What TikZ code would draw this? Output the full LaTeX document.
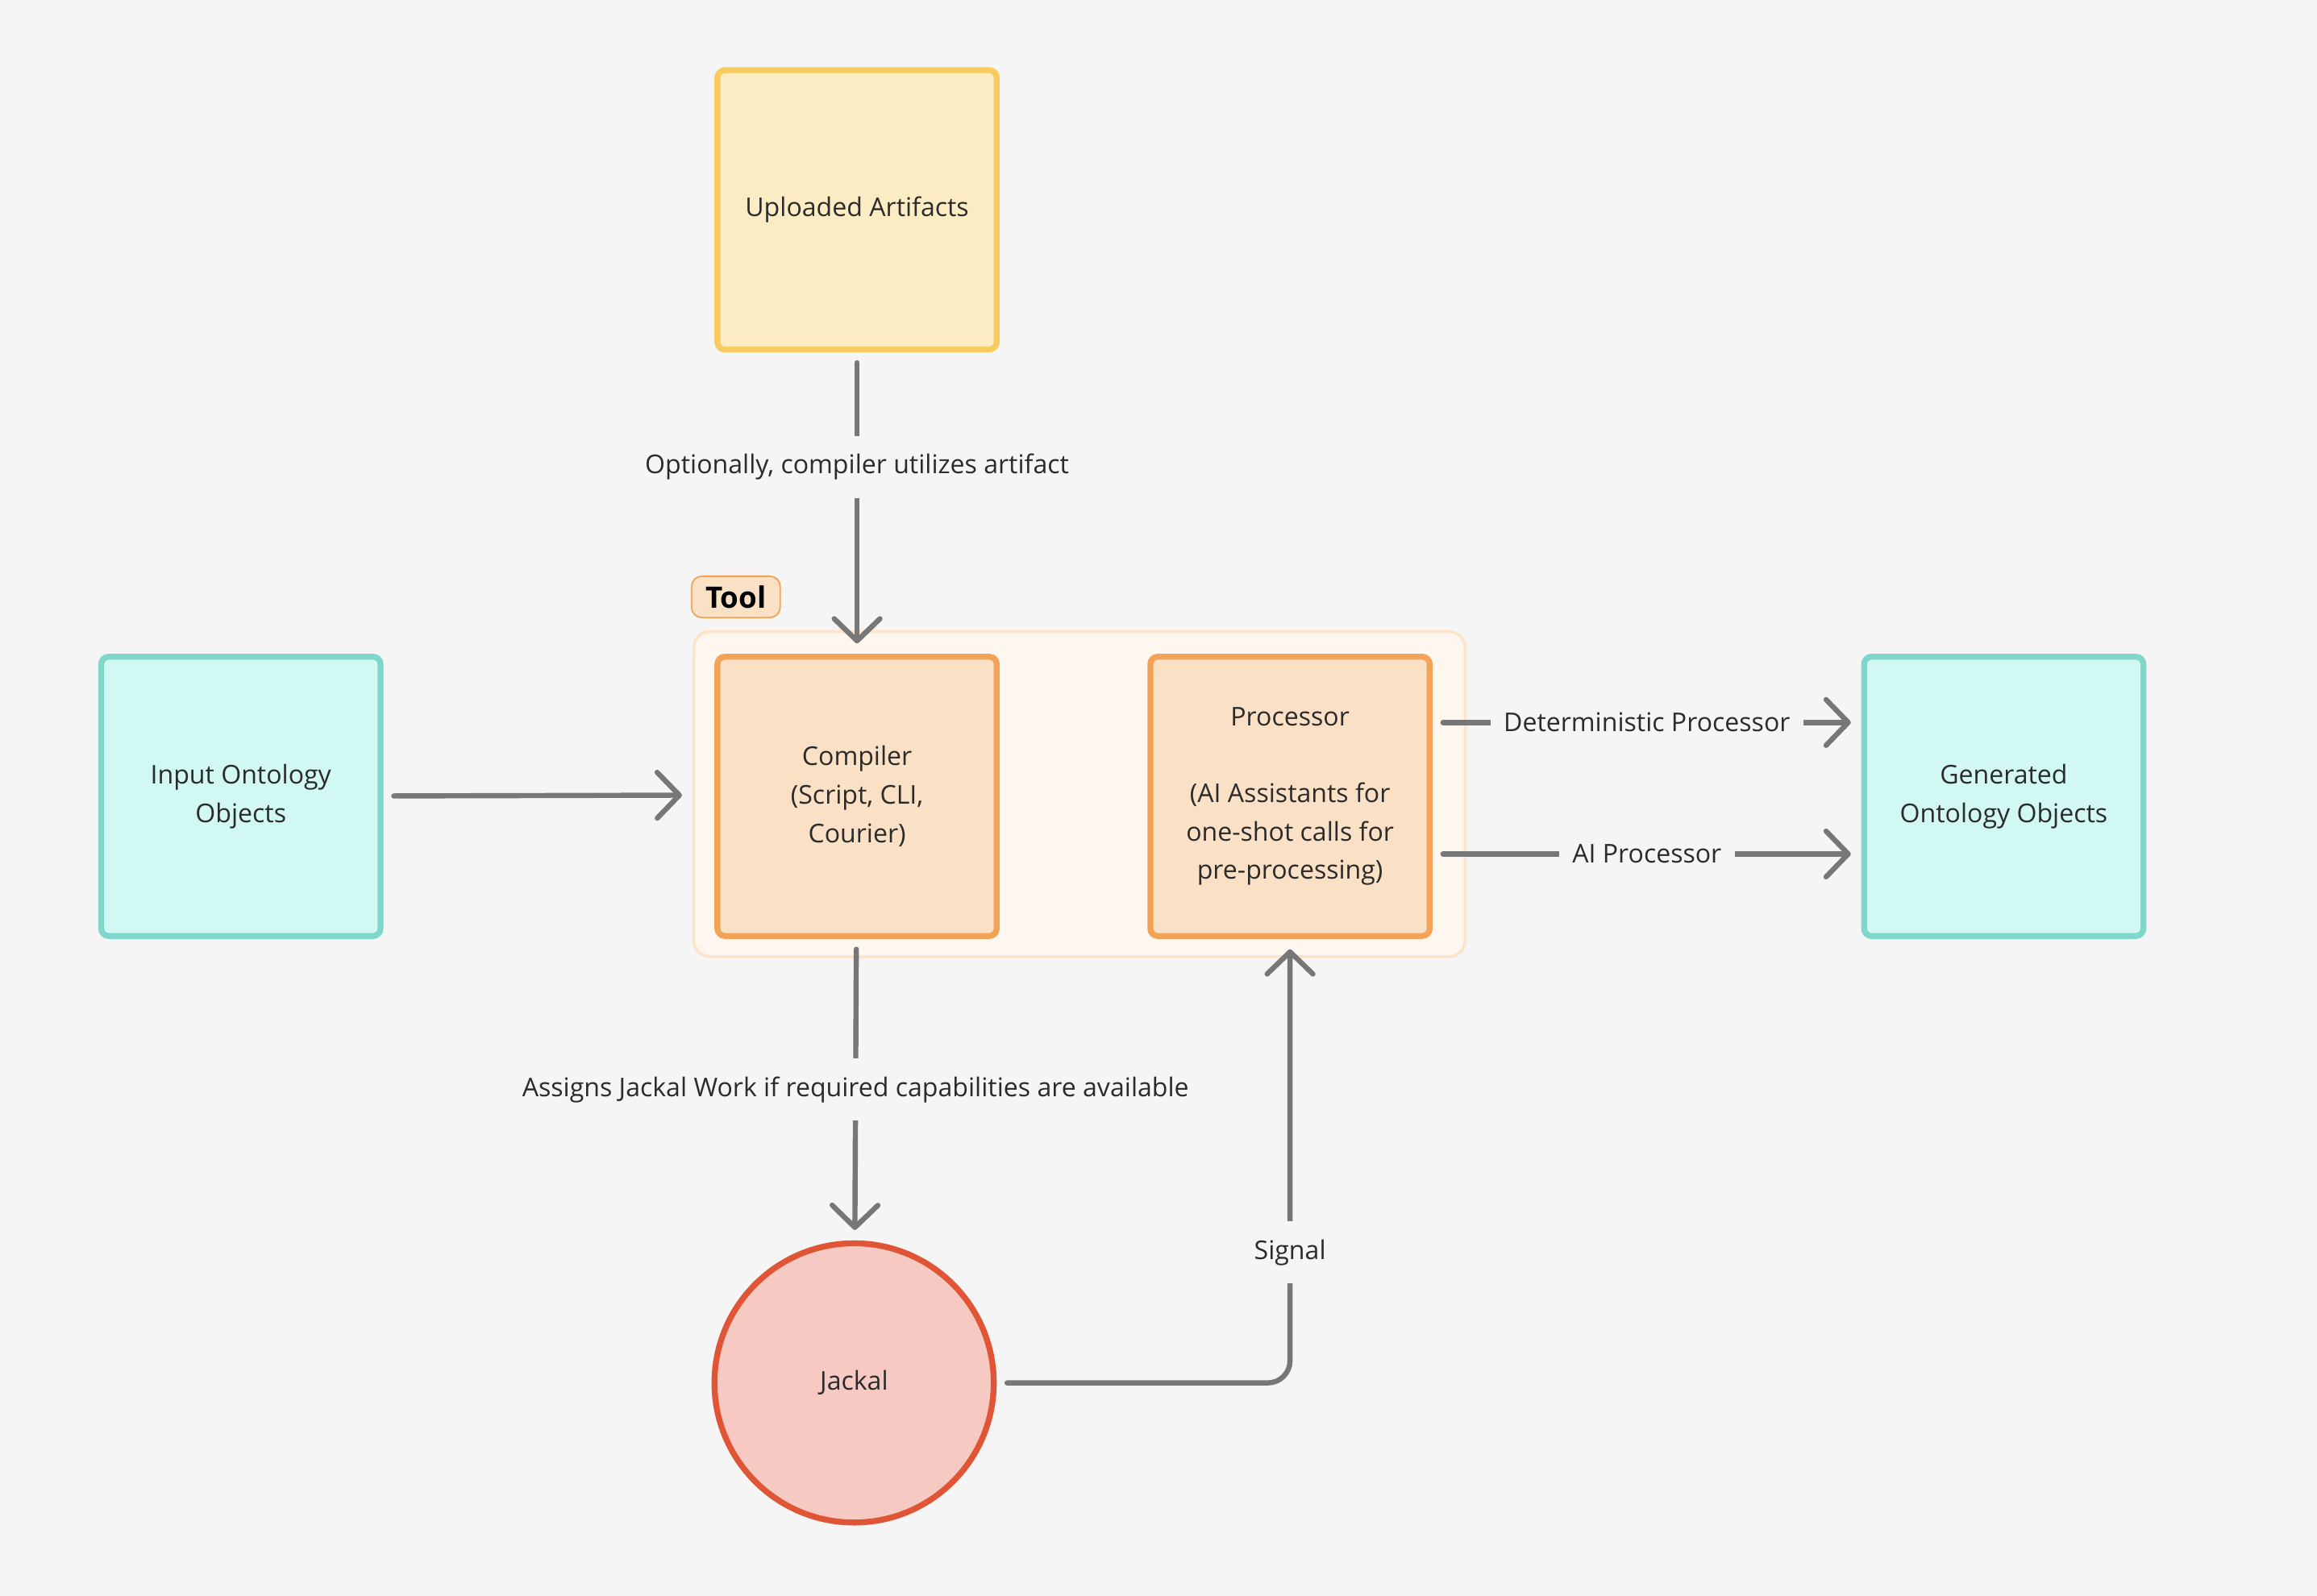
\documentclass[tikz,border=0pt]{standalone}
\usepackage{fontspec}
\setmainfont{Open Sans}
\usetikzlibrary{arrows.meta}

\definecolor{bgcol}{HTML}{F5F5F5}
\definecolor{txtcol}{HTML}{2B2B2B}
\definecolor{linecol}{HTML}{777777}
\definecolor{yelfill}{HTML}{FCECC3}
\definecolor{yeldraw}{HTML}{F8CB5E}
\definecolor{orafill}{HTML}{FAE0C5}
\definecolor{oradraw}{HTML}{F2A357}
\definecolor{toolfill}{HTML}{FEF7F0}
\definecolor{tooldraw}{HTML}{FCE3C9}
\definecolor{tealfill}{HTML}{D1F8F3}
\definecolor{tealdraw}{HTML}{7FD6CA}
\definecolor{redfill}{HTML}{F6C9C3}
\definecolor{reddraw}{HTML}{E05536}

\tikzset{
    box/.style={draw,rectangle,rounded corners=5pt,line width=4pt,
        minimum width=189pt,minimum height=189pt,align=center,text=txtcol},
    conn/.style={draw=linecol,line width=3.5pt,line cap=round,
        -{Straight Barb[length=15pt,width=31pt,round]},
        shorten >=7pt,shorten <=7pt},
    lbl/.style={fill=bgcol,text=txtcol,inner xsep=9pt,minimum height=42pt}
}

\begin{document}
\begin{tikzpicture}[x=1pt,y=-1pt,font=\fontsize{17.5}{26}\selectfont]

        % background
        \fill [bgcol] (0,0) rectangle (1568,1080);
        \useasboundingbox (0,0) rectangle (1568,1080);

        % tool container
        \node [draw=tooldraw,fill=toolfill,line width=2pt,rounded corners=11pt,
               minimum width=522pt,minimum height=220pt] (tool) at (730.5,537.5) {};
        \node [draw=oradraw,fill=orafill,line width=1pt,rounded corners=7pt,
               minimum width=60pt,minimum height=28pt,inner sep=0pt,
               font=\fontsize{20}{24}\selectfont\bfseries] (tooltag) at (498,404) {Tool};

        % nodes
        \node [box,draw=yeldraw,fill=yelfill] (upl) at (580,142) {Uploaded Artifacts};
        \node [box,draw=oradraw,fill=orafill] (comp) at (580,539) {Compiler\\(Script, CLI,\\Courier)};
        \node [box,draw=oradraw,fill=orafill] (proc) at (873,539)
            {Processor\\[26pt](AI Assistants for\\one-shot calls for\\pre-processing)};
        \node [box,draw=tealdraw,fill=tealfill] (inp) at (163,539) {Input Ontology\\Objects};
        \node [box,draw=tealdraw,fill=tealfill] (gen) at (1356,539) {Generated\\Ontology Objects};
        \node [draw=reddraw,fill=redfill,circle,line width=4pt,minimum size=189pt,
               text=txtcol] (jackal) at (578,936) {Jackal};

        % arrows
        \draw [conn] (upl) -- node [lbl,pos=0.38] {Optionally, compiler utilizes artifact} (comp);
        \draw [conn] (inp) -- (tool);
        \draw [conn] ([yshift=50pt]proc.east) -- node [lbl] {Deterministic Processor} ([yshift=50pt]gen.west);
        \draw [conn] ([yshift=-39pt]proc.east) -- node [lbl] {AI Processor} ([yshift=-39pt]gen.west);
        \draw [conn] (comp) -- node [lbl] {Assigns Jackal Work if required capabilities are available} (jackal);
        \draw [conn,rounded corners=15pt] (jackal) -| node [lbl,pos=0.647] {Signal} (proc);
    \end{tikzpicture}
\end{document}
